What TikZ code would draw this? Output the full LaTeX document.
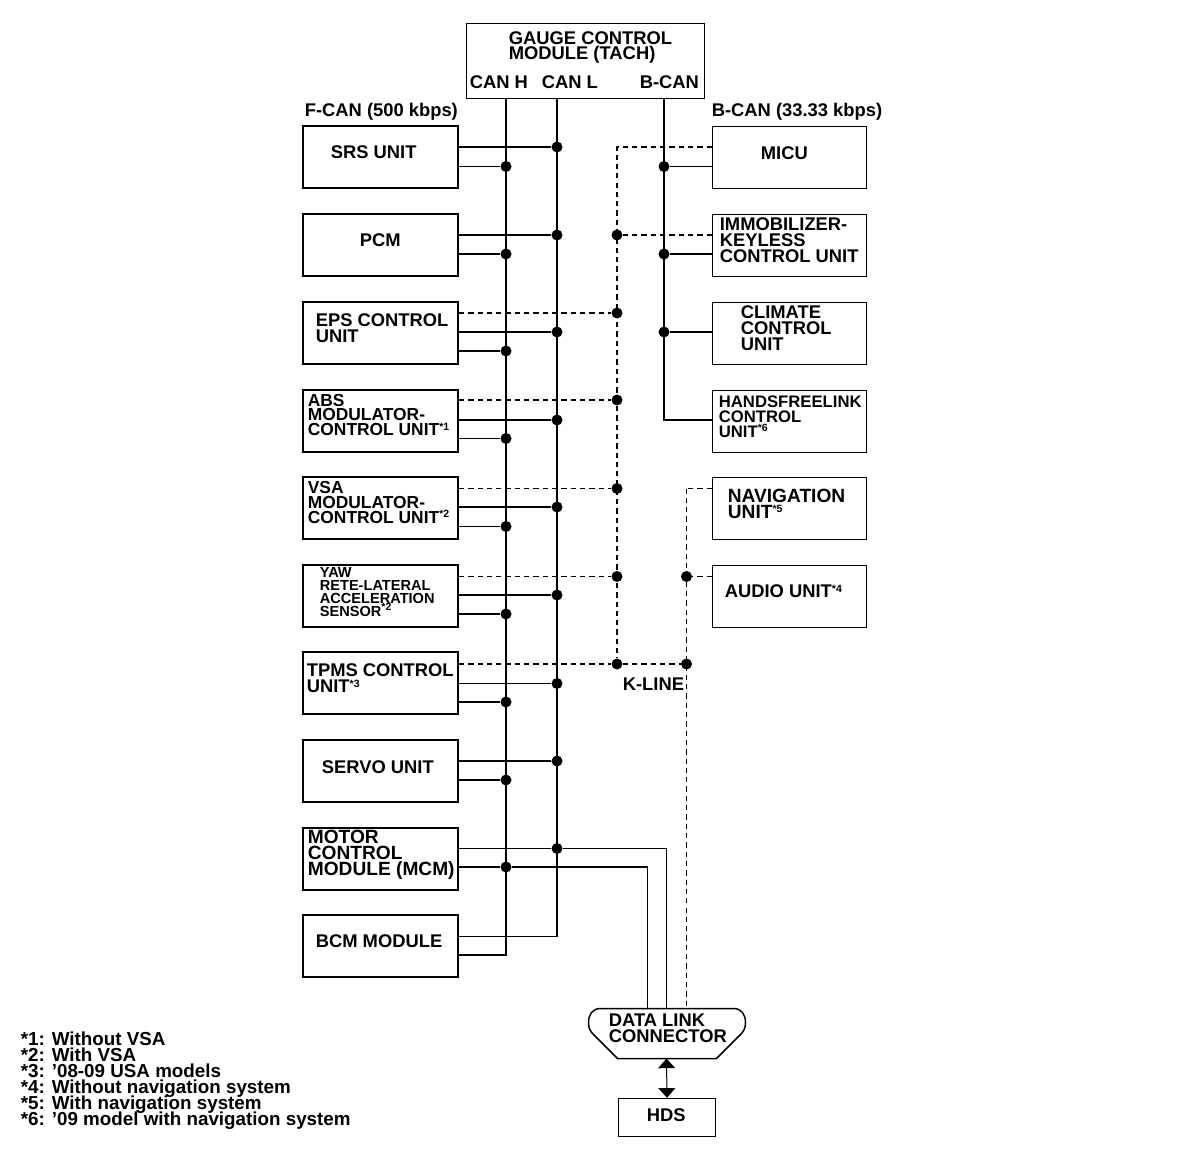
\documentclass[tikz,border=0pt]{standalone}
\usepackage{fontspec}
\setmainfont{Liberation Sans}
\usetikzlibrary{arrows.meta, positioning}
\newcommand{\starmark}[1]{\raisebox{3.2pt}{\fontsize{6}{6}\selectfont *#1}}
\newcommand{\boldtext}[2]{\bfseries\fontsize{#1}{#2}\selectfont\lineskiplimit=-20pt}
\tikzset{
  leftbox/.style={rectangle,draw,line width=1.1pt,minimum width=3.1cm,minimum height=1.24cm},
  rightbox/.style={rectangle,draw,line width=0.75pt,minimum width=3.08cm,minimum height=1.24cm},
  txt/.style={anchor=west,align=left,inner sep=0pt,xshift=-0.02cm,font=\boldtext{10.45}{9.07}},
  txtsmall/.style={txt,font=\boldtext{9.9}{8.5}},
  txthands/.style={txt,font=\boldtext{9.5}{8.4}},
  txttiny/.style={txt,font=\boldtext{8.3}{7.4}},
  txtbig/.style={txt,font=\boldtext{10.9}{9.07}},
  txtnotes/.style={txt,font=\boldtext{10.7}{9.07}},
  jdot/.style={circle,fill=black,inner sep=0pt,minimum size=0.22cm},
  thickwire/.style={line width=1.13pt},
  thinwire/.style={line width=0.57pt},
  thickdash/.style={line width=1.1pt,dash pattern=on 3pt off 2.3pt},
  thindash/.style={line width=0.57pt,dash pattern=on 3pt off 2.3pt}
}
\begin{document}
\begin{tikzpicture}[x=0.02cm,y=-0.02cm]
      \useasboundingbox (-0.5,-0.5) rectangle (1183.5,1161.5);
      \node[rectangle,draw,line width=0.6pt,minimum width=4.76cm,minimum height=1.5cm]
            (gauge) at(585,60.5){};
      \node[txt] (gaugetxt) at(509,47){GAUGE CONTROL\\MODULE (TACH)};
      \node[txt] (canhtxt) at(470,82){CAN H};
      \node[txt] (canltxt) at(542,82){CAN L};
      \node[txt] (bcantxt) at(640,82){B-CAN};
      \node[txt] (fcan) at(305,111){F-CAN (500 kbps)};
      \node[txt] (bcan) at(712,111){B-CAN (33.33 kbps)};

      \node[leftbox] (srs) at(380,156.5){};
      \node[leftbox] (pcm) at(380,244.5){};
      \node[leftbox] (eps) at(380,332.5){};
      \node[leftbox] (abs) at(380,420.5){};
      \node[leftbox] (vsa) at(380,507.5){};
      \node[leftbox] (yaw) at(380,595.5){};
      \node[leftbox] (tpms) at(380,682.5){};
      \node[leftbox] (servo) at(380,770.5){};
      \node[leftbox] (mcm) at(380,858.5){};
      \node[leftbox] (bcm) at(380,945.5){};
      \node[rightbox] (micu) at(789,157){};
      \node[rightbox] (immo) at(789,245){};
      \node[rightbox] (climate) at(789,333){};
      \node[rightbox] (hfl) at(789,421){};
      \node[rightbox] (nav) at(789,508){};
      \node[rightbox,line width=0.57pt] (audio) at(789,596){};

      \node[txt] at(331,152){SRS UNIT};
      \node[txt] at(360,240){PCM};
      \node[txt] at(316,328){EPS CONTROL\\UNIT};
      \node[txtsmall] at(308,414.5){ABS\\MODULATOR-\\CONTROL UNIT\starmark{1}};
      \node[txtsmall] at(308,502){VSA\\MODULATOR-\\CONTROL UNIT\starmark{2}};
      \node[txttiny] at(320,591.5){YAW\\RETE-LATERAL\\ACCELERATION\\SENSOR\starmark{2}};
      \node[txt] at(307,678){TPMS CONTROL\\UNIT\starmark{3}};
      \node[txt] at(322,767){SERVO UNIT};
      \node[txtbig] at(308,854){MOTOR\\CONTROL\\MODULE (MCM)};
      \node[txt] at(316,941){BCM MODULE};
      \node[txt] at(761,153){MICU};
      \node[txt] at(720,240){IMMOBILIZER-\\KEYLESS\\CONTROL UNIT};
      \node[txt] at(741,328){CLIMATE\\CONTROL\\UNIT};
      \node[txthands] at(719,416.5){HANDSFREELINK\\CONTROL\\UNIT\starmark{6}};
      \node[txtbig] at(728,503){NAVIGATION\\UNIT\starmark{5}};
      \node[txt] at(725,591){AUDIO UNIT\starmark{4}};
      \node[txt] (kline) at(623,684){K-LINE};

      \node[jdot] (srsl) at(556.5,146.5){};
      \node[jdot] (srsh) at(505.5,166){};
      \node[jdot] (pcml) at(556.5,234.5){};
      \node[jdot] (pcmh) at(505.5,253.5){};
      \node[jdot] (epsk) at(616.5,312.5){};
      \node[jdot] (epsl) at(556.5,331.5){};
      \node[jdot] (epsh) at(505.5,350.5){};
      \node[jdot] (absk) at(616.5,399.5){};
      \node[jdot] (absl) at(556.5,419.5){};
      \node[jdot] (absh) at(505.5,438){};
      \node[jdot] (vsak) at(616.5,488){};
      \node[jdot] (vsal) at(556.5,506.5){};
      \node[jdot] (vsah) at(505.5,526){};
      \node[jdot] (yawk) at(616.5,576){};
      \node[jdot] (yawl) at(556.5,594.5){};
      \node[jdot] (yawh) at(505.5,613.5){};
      \node[jdot] (tpmsk) at(616.5,663.5){};
      \node[jdot] (tpmsn) at(686,663.5){};
      \node[jdot] (tpmsl) at(556.5,683){};
      \node[jdot] (tpmsh) at(505.5,701.5){};
      \node[jdot] (servol) at(556.5,760.5){};
      \node[jdot] (servoh) at(505.5,779.5){};
      \node[jdot] (mcml) at(556.5,848){};
      \node[jdot] (mcmh) at(505.5,866.5){};
      \node[jdot] (micub) at(663.5,166){};
      \node[jdot] (immok) at(616.5,234.5){};
      \node[jdot] (immob) at(663.5,253.5){};
      \node[jdot] (climateb) at(663.5,331.5){};
      \node[jdot] (audion) at(686,576){};

      \coordinate (bcml) at(556.5,936);
      \coordinate (bcmh) at(505.5,954.5);
      \coordinate (micuk) at(616.5,146.5);
      \coordinate (hflb) at(663.5,419.5);
      \coordinate (navn) at(686,488);
      \coordinate (dlch) at(647,1008);
      \coordinate (dlcl) at(666,1008);
      \coordinate (dlcn) at(686,1008);
      \coordinate (dlcbot) at(666,1058);

      \draw[thickwire] (srsh |- gauge.south) -- (bcmh) -- (bcm.east |- bcmh);
      \draw[thickwire] (srsl |- gauge.south) -- (bcml);
      \draw[thickwire] (micub |- gauge.south) -- (hflb) -- (hfl.west |- hflb);
      \draw[thinwire] (bcm.east |- bcml) -- (bcml);

      \draw[thickwire] (srs.east |- srsl) -- (srsl);
      \draw[thinwire] (srs.east |- srsh) -- (srsh);
      \draw[thickwire] (pcm.east |- pcml) -- (pcml);
      \draw[thickwire] (pcm.east |- pcmh) -- (pcmh);
      \draw[thickdash] (eps.east |- epsk) -- (epsk);
      \draw[thickwire] (eps.east |- epsl) -- (epsl);
      \draw[thickwire] (eps.east |- epsh) -- (epsh);
      \draw[thickdash] (abs.east |- absk) -- (absk);
      \draw[thickwire] (abs.east |- absl) -- (absl);
      \draw[thinwire] (abs.east |- absh) -- (absh);
      \draw[thindash] (vsa.east |- vsak) -- (vsak);
      \draw[thickwire] (vsa.east |- vsal) -- (vsal);
      \draw[thinwire] (vsa.east |- vsah) -- (vsah);
      \draw[thindash] (yaw.east |- yawk) -- (yawk);
      \draw[thickwire] (yaw.east |- yawl) -- (yawl);
      \draw[thickwire] (yaw.east |- yawh) -- (yawh);
      \draw[thickdash] (tpms.east |- tpmsk) -- (tpmsk) -- (tpmsn);
      \draw[thinwire] (tpms.east |- tpmsl) -- (tpmsl);
      \draw[thickwire] (tpms.east |- tpmsh) -- (tpmsh);
      \draw[thickwire] (servo.east |- servol) -- (servol);
      \draw[thickwire] (servo.east |- servoh) -- (servoh);
      \draw[thinwire] (mcm.east |- mcml) -- (mcml) -- (dlcl |- mcml) -- (dlcl);
      \draw[thickwire] (mcm.east |- mcmh) -- (mcmh) -- (dlch |- mcmh);
      \draw[thinwire] (dlch |- mcmh) -- (dlch);

      \draw[thickdash] (micu.west |- micuk) -- (micuk) -- (tpmsk);
      \draw[thinwire] (micu.west |- micub) -- (micub);
      \draw[thickdash] (immo.west |- immok) -- (immok);
      \draw[thickwire] (immo.west |- immob) -- (immob);
      \draw[thickwire] (climate.west |- climateb) -- (climateb);
      \draw[thickdash] (nav.west |- navn) -- (navn);
      \draw[thindash] (navn) -- (dlcn);
      \draw[thindash] (audio.west |- audion) -- (audion);

      \draw[line width=0.85pt] (600,1008) -- (733,1008)
            .. controls (741,1008) and (745,1014) .. (745,1022)
            .. controls (745,1028) and (743,1031) .. (740,1034)
            -- (716,1058) -- (617,1058) -- (593,1034)
            .. controls (590,1031) and (588,1028) .. (588,1022)
            .. controls (588,1014) and (592,1008) .. (600,1008) -- cycle;
      \node[txt] (dlc) at(609,1028){DATA LINK\\CONNECTOR};
      \node[rectangle,draw,line width=0.85pt,minimum width=1.94cm,minimum height=0.76cm]
            (hds) at(666.5,1117){};
      \node[txt] (hdstxt) at(647,1115){HDS};
      \draw[thinwire,{Triangle[length=5.5pt,width=9.6pt]}-{Triangle[length=5.5pt,width=9.6pt]}]
            (dlcbot) -- (hds.north);

      \node[txtnotes] (notes) at(21,1080){*1: Without VSA\\*2: With VSA\\*3: ’08-09 USA models\\*4: Without navigation system\\*5: With navigation system\\*6: ’09 model with navigation system};
    \end{tikzpicture}
\end{document}
